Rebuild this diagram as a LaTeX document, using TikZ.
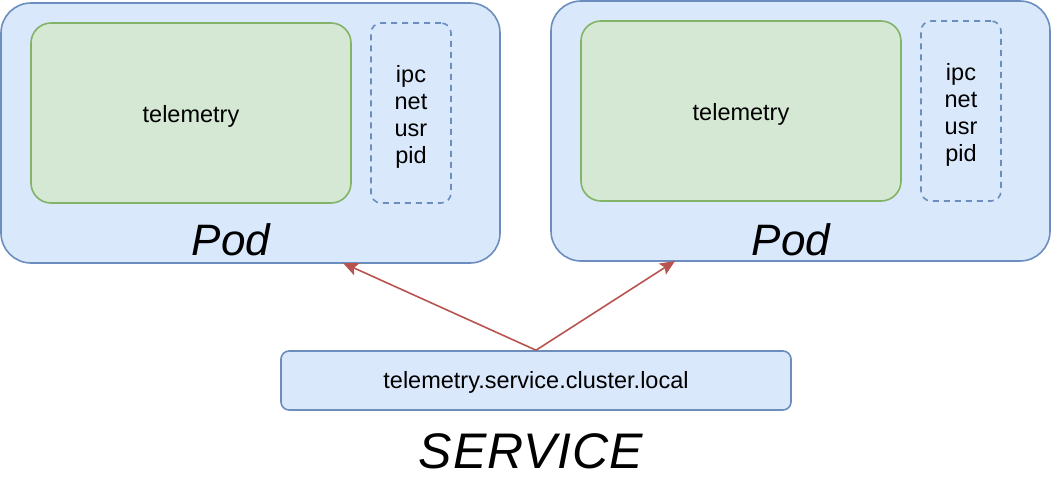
\documentclass[tikz,border=0pt]{standalone}
\usepackage{fontspec}
\setmainfont{Liberation Sans}
\newfontfamily\handfont{Liberation Sans}
\usetikzlibrary{arrows.meta}
\definecolor{podfill}{HTML}{DAE8FC}
\definecolor{poddraw}{HTML}{6C8EBF}
\definecolor{ctrfill}{HTML}{D5E8D4}
\definecolor{ctrdraw}{HTML}{82B366}
\definecolor{arr}{HTML}{B85450}
\tikzset{
  podbox/.style={draw=poddraw,fill=podfill,line width=1.6pt,rounded corners=30pt,minimum width=499pt,minimum height=260pt,inner sep=0pt},
  ctrbox/.style={draw=ctrdraw,fill=ctrfill,line width=1.6pt,rounded corners=20pt,minimum width=320pt,minimum height=180pt,inner sep=0pt},
  nsbox/.style={draw=poddraw,dash pattern=on 6pt off 5pt,line width=1.6pt,rounded corners=10pt,minimum width=80pt,minimum height=180pt,inner sep=0pt},
  svcbox/.style={draw=poddraw,fill=podfill,line width=1.6pt,rounded corners=8pt,minimum width=510pt,minimum height=59pt,inner sep=0pt},
  txt/.style={inner sep=0pt,align=center,font=\fontsize{23.5}{27}\selectfont},
  handlbl/.style={anchor=base,inner sep=0pt,font=\handfont\itshape\fontsize{44}{50}\selectfont},
  conn/.style={draw=arr,line width=1.6pt,-{Stealth[length=15pt,width=13pt,inset=3pt]}}
}
\begin{document}
\begin{tikzpicture}[x=1pt,y=-1pt]
\useasboundingbox (0,0) rectangle (1052,482);
% Pod 1
\node[podbox] (pod1) at (250.5,133) {};
\node[ctrbox] (tel1) at (191,113) {};
\node[txt] (tel1txt) at ([yshift=-3pt]tel1.center) {telemetry};
\node[nsbox] (ns1) at (411,113) {};
\node[txt] (ns1txt) at ([yshift=-4pt]ns1.center) {ipc\\net\\usr\\pid};
\node[handlbl] (podlbl1) at (231,255) {Pod};
% Pod 2
\node[podbox] (pod2) at (800.5,131) {};
\node[ctrbox] (tel2) at (741,111) {};
\node[txt] (tel2txt) at ([yshift=-3pt]tel2.center) {telemetry};
\node[nsbox] (ns2) at (961,111) {};
\node[txt] (ns2txt) at ([yshift=-4pt]ns2.center) {ipc\\net\\usr\\pid};
\node[handlbl] (podlbl2) at (791,255) {Pod};
% Service
\node[svcbox] (svc) at (536,380.5) {};
\node[txt] (svctxt) at ([yshift=-2pt]svc.center) {telemetry.service.cluster.local};
\node[handlbl,font=\handfont\itshape\fontsize{50}{56}\selectfont\addfontfeature{LetterSpace=2}] (svclbl) at (531,468) {SERVICE};
% connectors
\coordinate (t1) at (343,263);
\coordinate (t2) at (675,261);
\draw[conn] (svc.north) -- (t1);
\draw[conn] (svc.north) -- (t2);
\end{tikzpicture}
\end{document}
